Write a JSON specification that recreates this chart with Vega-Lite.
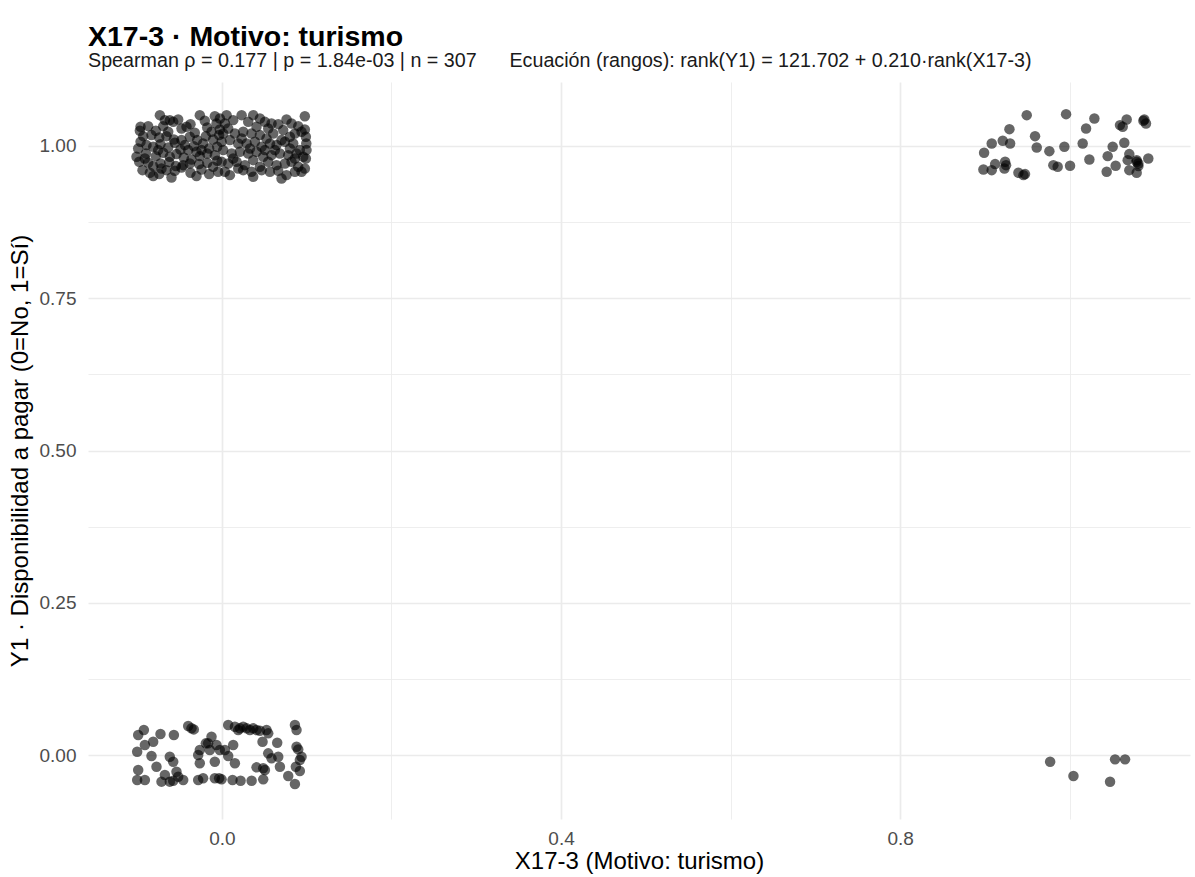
{
"$schema": "https://vega.github.io/schema/vega-lite/v6.json",
"width": 1102,
"height": 737,
"autosize": "none",
"padding": {"left": 88, "top": 82, "right": 5, "bottom": 58},
"background": "white",
"title": {
 "text": "X17-3 · Motivo: turismo",
 "subtitle": "Spearman ρ = 0.177 | p = 1.84e-03 | n = 307 \u00a0\u00a0\u00a0\u00a0\u00a0Ecuación (rangos): rank(Y1) = 121.702 + 0.210·rank(X17-3)",
 "anchor": "start", "frame": "group",
 "font": "Liberation Sans", "fontSize": 28.5, "fontWeight": "bold", "color": "#000000",
 "subtitleFont": "Liberation Sans", "subtitleFontSize": 19.7, "subtitleColor": "#1a1a1a", "subtitlePadding": 0,
 "offset": 11
},
"config": {
 "view": {"stroke": null},
 "axis": {
  "domain": false, "ticks": false,
  "gridColor": "#EBEBEB",
  "labelFont": "Liberation Sans", "labelFontSize": 19, "labelColor": "#4D4D4D",
  "titleFont": "Liberation Sans", "titleFontSize": 24, "titleFontWeight": "normal", "titleColor": "#000000"
 }
},
"data": {"values": [
{"x":0.977,"y":-0.011},{"x":1.0045,"y":-0.0345},{"x":1.0477,"y":-0.0438},{"x":1.0536,"y":-0.0071},{"x":1.0654,"y":-0.0071},
{"x":0.9494,"y":1.0506},{"x":0.9958,"y":1.0522},{"x":1.0292,"y":1.0451},{"x":1.0194,"y":1.0287},{"x":0.929,"y":1.0276},{"x":1.0673,"y":1.0435},{"x":1.0594,"y":1.0342},{"x":1.0626,"y":1.0314},{"x":1.0881,"y":1.0435},{"x":1.0901,"y":1.0369},{"x":1.087,"y":1.0413},
{"x":0.9081,"y":1.0041},{"x":0.9211,"y":1.0085},{"x":0.9298,"y":1.0041},{"x":0.9592,"y":1.0161},{"x":0.9612,"y":0.9975},{"x":0.9761,"y":0.9915},{"x":0.9938,"y":0.9986},{"x":1.0154,"y":1.0041},{"x":1.0508,"y":0.9986},{"x":1.0645,"y":1.0052},{"x":0.8991,"y":0.9888},
{"x":0.9121,"y":0.9702},{"x":0.9239,"y":0.974},{"x":0.925,"y":0.9685},{"x":0.8983,"y":0.9614},{"x":0.9081,"y":0.9603},{"x":0.9231,"y":0.9631},{"x":0.9396,"y":0.956},{"x":0.9455,"y":0.9521},{"x":0.9474,"y":0.9538},{"x":0.9808,"y":0.9685},{"x":0.9859,"y":0.9658},{"x":1.0005,"y":0.9674},{"x":1.0233,"y":0.9778},{"x":1.0449,"y":0.9833},{"x":1.0543,"y":0.9674},{"x":1.0437,"y":0.9576},{"x":1.0704,"y":0.9866},{"x":1.0685,"y":0.9767},{"x":1.0791,"y":0.9767},{"x":1.0811,"y":0.9713},{"x":1.0928,"y":0.9795},{"x":1.0704,"y":0.9603},{"x":1.0791,"y":0.956},{"x":1.0811,"y":0.9669},{"x":1.0791,"y":0.974},
{"x":-0.0988,"y":0.0328},{"x":-0.0921,"y":0.0411},{"x":-0.0725,"y":0.0345},{"x":-0.0567,"y":0.0328},{"x":-0.0398,"y":0.0476},{"x":-0.0359,"y":0.0438},{"x":-0.0332,"y":0.0421},{"x":-0.0909,"y":0.0164},{"x":-0.0811,"y":0.0219},{"x":-0.1,"y":0.0055},{"x":-0.0831,"y":-0.0016},{"x":-0.0615,"y":-0.0027},{"x":-0.0575,"y":-0.0109},{"x":-0.0261,"y":0.0082},{"x":-0.019,"y":0.0192},{"x":-0.0123,"y":0.0301},{"x":-0.0143,"y":0.0082},{"x":-0.0064,"y":0.0164},{"x":-0.0025,"y":0.0082},{"x":-0.028,"y":0.0},{"x":-0.0261,"y":-0.0136},{"x":-0.0084,"y":-0.0109},{"x":-0.0988,"y":-0.0246},{"x":-0.0772,"y":-0.0191},{"x":-0.0673,"y":-0.0328},{"x":-0.0536,"y":-0.0273},{"x":-0.0516,"y":-0.0355},{"x":-0.1,"y":-0.041},{"x":-0.0909,"y":-0.041},{"x":-0.0713,"y":-0.0437},{"x":-0.0615,"y":-0.0437},{"x":-0.0575,"y":-0.0421},{"x":-0.0457,"y":-0.041},{"x":-0.028,"y":-0.041},{"x":-0.0222,"y":-0.0382},{"x":-0.0084,"y":-0.0382},{"x":-0.0163,"y":0.0192},{"x":-0.0033,"y":-0.0382},
{"x":0.0074,"y":0.0493},{"x":0.0153,"y":0.0465},{"x":0.0192,"y":0.0411},{"x":0.0251,"y":0.0465},{"x":0.0291,"y":0.0438},{"x":0.033,"y":0.0411},{"x":0.0369,"y":0.0438},{"x":0.0448,"y":0.04},{"x":0.0526,"y":0.0411},{"x":0.0546,"y":0.0356},{"x":0.0479,"y":0.0219},{"x":0.0652,"y":0.0203},{"x":0.0133,"y":0.0164},{"x":0.0074,"y":-0.0016},{"x":0.0153,"y":-0.0136},{"x":0.0546,"y":0.0028},{"x":0.0585,"y":-0.0054},{"x":0.0664,"y":-0.0027},{"x":0.0684,"y":-0.0191},{"x":0.0408,"y":-0.0202},{"x":0.0487,"y":-0.0218},{"x":0.0507,"y":-0.0246},{"x":0.0782,"y":-0.0344},{"x":0.0861,"y":-0.0476},{"x":0.0861,"y":0.0493},{"x":0.088,"y":0.0411},{"x":0.088,"y":0.0137},{"x":0.09,"y":0.0093},{"x":0.0939,"y":-0.0027},{"x":0.0919,"y":-0.0082},{"x":0.0872,"y":-0.0191},{"x":0.0919,"y":-0.0262},{"x":-0.0004,"y":-0.0399},{"x":0.0125,"y":-0.041},{"x":0.022,"y":-0.0421},{"x":0.035,"y":-0.0421},{"x":0.0487,"y":-0.0399},{"x":0.0212,"y":0.0438},{"x":0.0408,"y":0.0411},{"x":0.0035,"y":0.0082},
{"x":-0.0732,"y":1.0506},{"x":-0.0261,"y":1.0506},{"x":-0.0084,"y":1.0489},{"x":-0.0615,"y":1.0424},{"x":-0.0575,"y":1.0396},{"x":-0.0371,"y":1.0358},
{"x":-0.096,"y":1.0314},{"x":-0.087,"y":1.0325},{"x":-0.078,"y":1.0249},{"x":-0.0693,"y":1.0325},{"x":-0.0634,"y":1.0232},{"x":-0.0477,"y":1.0287},{"x":-0.0418,"y":1.0314},{"x":-0.032,"y":1.0216},{"x":-0.0174,"y":1.0303},{"x":-0.0064,"y":1.0369},{"x":-0.0025,"y":1.0271},{"x":-0.0968,"y":1.0249},
{"x":-0.0929,"y":1.0161},{"x":-0.0831,"y":1.0178},{"x":-0.074,"y":1.0139},{"x":-0.0654,"y":1.0161},{"x":-0.0567,"y":1.0107},{"x":-0.0477,"y":1.0096},{"x":-0.0379,"y":1.015},{"x":-0.0292,"y":1.0096},{"x":-0.019,"y":1.0161},{"x":-0.0104,"y":1.0107},{"x":-0.0033,"y":1.0178},{"x":-0.096,"y":1.0068},
{"x":-0.089,"y":1.0014},{"x":-0.0811,"y":0.9986},{"x":-0.0725,"y":1.003},{"x":-0.0634,"y":0.9975},{"x":-0.0556,"y":1.0052},{"x":-0.0489,"y":0.9943},{"x":-0.0398,"y":0.9932},{"x":-0.0332,"y":0.9997},{"x":-0.0241,"y":0.9932},{"x":-0.0151,"y":0.9959},{"x":-0.0056,"y":0.9986},{"x":-0.0988,"y":0.9959},
{"x":-0.0897,"y":0.9877},{"x":-0.078,"y":0.9833},{"x":-0.0693,"y":0.9888},{"x":-0.0615,"y":0.9822},{"x":-0.0536,"y":0.9866},{"x":-0.045,"y":0.9811},{"x":-0.0359,"y":0.9778},{"x":-0.0261,"y":0.9833},{"x":-0.0174,"y":0.9877},{"x":-0.0084,"y":0.9849},
{"x":-0.0976,"y":0.974},{"x":-0.087,"y":0.9724},{"x":-0.0811,"y":0.9669},{"x":-0.0725,"y":0.9713},{"x":-0.0622,"y":0.9735},{"x":-0.0544,"y":0.9669},{"x":-0.0457,"y":0.9685},{"x":-0.0379,"y":0.9713},{"x":-0.0269,"y":0.9702},{"x":-0.0174,"y":0.9724},{"x":-0.0056,"y":0.9756},
{"x":-0.0937,"y":0.9603},{"x":-0.085,"y":0.956},{"x":-0.074,"y":0.9538},{"x":-0.0654,"y":0.9603},{"x":-0.0556,"y":0.9592},{"x":-0.0477,"y":0.9647},{"x":-0.0371,"y":0.956},{"x":-0.0241,"y":0.9614},{"x":-0.0151,"y":0.9538},{"x":-0.0045,"y":0.9576},{"x":-0.0811,"y":0.9505},{"x":-0.0713,"y":0.9631},{"x":-0.0595,"y":0.9483},{"x":-0.03,"y":0.9505},
{"x":-0.0673,"y":1.0424},{"x":-0.0516,"y":1.0435},{"x":-0.0202,"y":1.0413},{"x":-0.0123,"y":1.0232},{"x":-0.0752,"y":0.9932},{"x":-0.0438,"y":1.0014},{"x":-0.0222,"y":1.0041},{"x":-0.0909,"y":0.9795},{"x":-0.03,"y":0.9904},{"x":-0.0104,"y":0.9658},{"x":-0.1008,"y":0.9822},
{"x":0.0232,"y":1.0506},{"x":0.0369,"y":1.0506},{"x":0.0448,"y":1.0451},{"x":0.0507,"y":1.0396},{"x":0.0585,"y":1.0369},{"x":0.0664,"y":1.0358},{"x":0.0762,"y":1.0435},{"x":0.0821,"y":1.0369},{"x":0.0978,"y":1.0489},{"x":0.0978,"y":1.0271},{"x":-0.0024,"y":1.0451},{"x":0.0035,"y":1.0369},
{"x":0.0074,"y":1.0287},{"x":0.0153,"y":1.0205},{"x":0.0251,"y":1.0232},{"x":0.0349,"y":1.0205},{"x":0.0448,"y":1.0178},{"x":0.0526,"y":1.0123},{"x":0.0605,"y":1.0205},{"x":0.0703,"y":1.0096},{"x":0.0802,"y":1.015},{"x":0.0861,"y":1.0205},{"x":0.0939,"y":1.0232},
{"x":-0.0004,"y":1.0068},{"x":0.0094,"y":1.0096},{"x":0.0192,"y":1.0041},{"x":0.0291,"y":1.0041},{"x":0.0389,"y":1.0068},{"x":0.0468,"y":0.9986},{"x":0.0566,"y":1.0041},{"x":0.0644,"y":1.0014},{"x":0.0743,"y":1.0068},{"x":0.0841,"y":1.0041},{"x":0.0919,"y":0.9932},{"x":0.0998,"y":0.9932},
{"x":0.0015,"y":0.9932},{"x":0.0114,"y":0.9877},{"x":0.0212,"y":0.9904},{"x":0.031,"y":0.9877},{"x":0.0408,"y":0.9904},{"x":0.0507,"y":0.9932},{"x":0.0585,"y":0.9849},{"x":0.0684,"y":0.9877},{"x":0.0782,"y":0.9849},{"x":0.088,"y":0.9877},{"x":0.0959,"y":0.9822},
{"x":-0.0004,"y":0.974},{"x":0.0074,"y":0.9713},{"x":0.0173,"y":0.974},{"x":0.0271,"y":0.9685},{"x":0.0369,"y":0.9767},{"x":0.0448,"y":0.9658},{"x":0.0546,"y":0.974},{"x":0.0644,"y":0.9685},{"x":0.0743,"y":0.9713},{"x":0.0821,"y":0.974},{"x":0.09,"y":0.9658},{"x":0.0978,"y":0.9631},
{"x":0.0035,"y":0.9576},{"x":0.0094,"y":0.9521},{"x":0.0192,"y":0.9631},{"x":0.0251,"y":0.9603},{"x":0.0349,"y":0.9576},{"x":0.0468,"y":0.9603},{"x":0.0566,"y":0.9576},{"x":0.0664,"y":0.9592},{"x":0.0762,"y":0.9521},{"x":0.0861,"y":0.9576},{"x":0.0939,"y":0.9576},
{"x":0.0055,"y":1.0506},{"x":0.0133,"y":1.0424},{"x":0.031,"y":1.0396},{"x":0.0408,"y":1.0314},{"x":0.0546,"y":1.0287},{"x":0.0723,"y":1.026},{"x":0.09,"y":1.0325},{"x":0.099,"y":1.015},{"x":0.0232,"y":1.0123},{"x":0.033,"y":0.9959},{"x":0.0625,"y":0.9932},{"x":0.0802,"y":0.9959},{"x":0.0995,"y":1.0041},{"x":0.0133,"y":0.9795},{"x":0.0487,"y":0.9822},{"x":0.0861,"y":0.9795},{"x":0.099,"y":0.9795},{"x":0.0369,"y":0.9494},{"x":0.0703,"y":0.9467},{"x":0.0015,"y":1.0205}
]},
"mark": {"type": "point", "filled": true, "color": "#000000", "opacity": 0.6, "size": 110, "strokeWidth": 0},
"encoding": {
 "x": {
  "field": "x", "type": "quantitative",
  "scale": {"domain": [-0.158, 1.142], "nice": false, "zero": false},
  "axis": {
   "title": "X17-3 (Motivo: turismo)",
   "values": [0, 0.2, 0.4, 0.6, 0.8, 1.0],
   "format": ".1f",
   "labelExpr": "round(datum.value*10) % 4 == 0 ? datum.label : ''",
   "gridWidth": {"condition": {"test": "round(datum.value*10) % 4 == 0", "value": 1.7}, "value": 0.85},
   "labelPadding": 10,
   "titlePadding": 1
  }
 },
 "y": {
  "field": "y", "type": "quantitative",
  "scale": {"domain": [-0.105, 1.105], "nice": false, "zero": false},
  "axis": {
   "title": "Y1 · Disponibilidad a pagar (0=No, 1=Sí)",
   "values": [0, 0.125, 0.25, 0.375, 0.5, 0.625, 0.75, 0.875, 1.0],
   "format": ".2f",
   "labelExpr": "round(datum.value*8) % 2 == 0 ? datum.label : ''",
   "gridWidth": {"condition": {"test": "round(datum.value*8) % 2 == 0", "value": 1.7}, "value": 0.85},
   "labelPadding": 12,
   "titlePadding": 7
  }
 }
}
}
